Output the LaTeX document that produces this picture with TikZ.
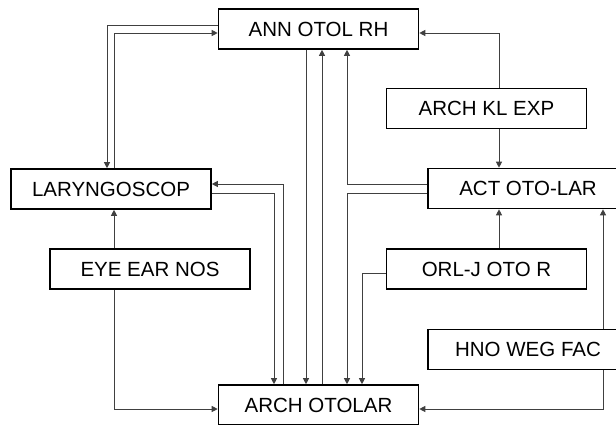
\documentclass[tikz,border=0pt]{standalone}
\usepackage{fontspec}
\setmainfont{Liberation Sans}
\usetikzlibrary{arrows.meta}
\begin{document}
\begin{tikzpicture}[x=1pt,y=-1pt,
  box/.style={draw=black,line width=1.6pt,fill=white,minimum width=200pt,minimum height=40pt,inner sep=0pt,
    font=\fontsize{20.5}{24}\selectfont},
  conn/.style={draw=black!75,line width=0.9pt},
  arr/.style={conn,-{Triangle[length=6pt,width=6pt]}}]
\useasboundingbox (0,0) rectangle (616,424);
\clip (0,0) rectangle (616,424);
\fill[white] (0,0) rectangle (616,424);
\node[box] (ann) at (318.5,29) {ANN OTOL RH};
\node[box] (lary) at (111,189) {LARYNGOSCOP};
\node[box] (kl) at (486.5,108.5) {ARCH KL EXP};
\node[box] (act) at (528,188.5) {ACT OTO-LAR};
\node[box] (eye) at (150,269) {EYE EAR NOS};
\node[box] (orl) at (486.5,269) {ORL-J OTO R};
\node[box] (hno) at (528,349.5) {HNO WEG FAC};
\node[box] (arch) at (318.5,405) {ARCH OTOLAR};
\draw[arr] ([yshift=4pt]ann.west) -| ([xshift=-4pt]lary.north);
\draw[arr] ([xshift=3pt]lary.north) |- ([yshift=-4pt]ann.west);
\draw[arr] ([xshift=-35.5pt]arch.north) |- ([yshift=5pt]lary.east);
\draw[arr] ([yshift=-4pt]lary.east) -| ([xshift=-44.5pt]arch.north);
\draw[arr] ([xshift=-12.5pt]ann.south) -- ([xshift=-12.5pt]arch.north);
\draw[arr] ([xshift=3.5pt]arch.north) -- ([xshift=3.5pt]ann.south);
\draw[arr] ([yshift=4.5pt]act.west) -| ([xshift=28.5pt]ann.south);
\draw[arr] ([yshift=-4.5pt]act.west) -| ([xshift=28.5pt]arch.north);
\draw[arr] ([yshift=-4pt]orl.west) -| ([xshift=43.5pt]arch.north);
\draw[arr] ([xshift=12.5pt]kl.north) |- ([yshift=-4pt]ann.east);
\draw[arr] ([xshift=12.5pt]kl.south) -- ([xshift=-29pt]act.north);
\draw[arr] ([xshift=12.5pt]orl.north) -- ([xshift=-29pt]act.south);
\draw[arr] ([xshift=75pt]hno.north) -- ([xshift=75pt]act.south);
\draw[arr] ([xshift=75pt]hno.south) |- ([yshift=-4pt]arch.east);
\draw[arr] ([xshift=-36pt]eye.north) -- ([xshift=3pt]lary.south);
\draw[arr] ([xshift=-36pt]eye.south) |- ([yshift=-4pt]arch.west);
\end{tikzpicture}
\end{document}
